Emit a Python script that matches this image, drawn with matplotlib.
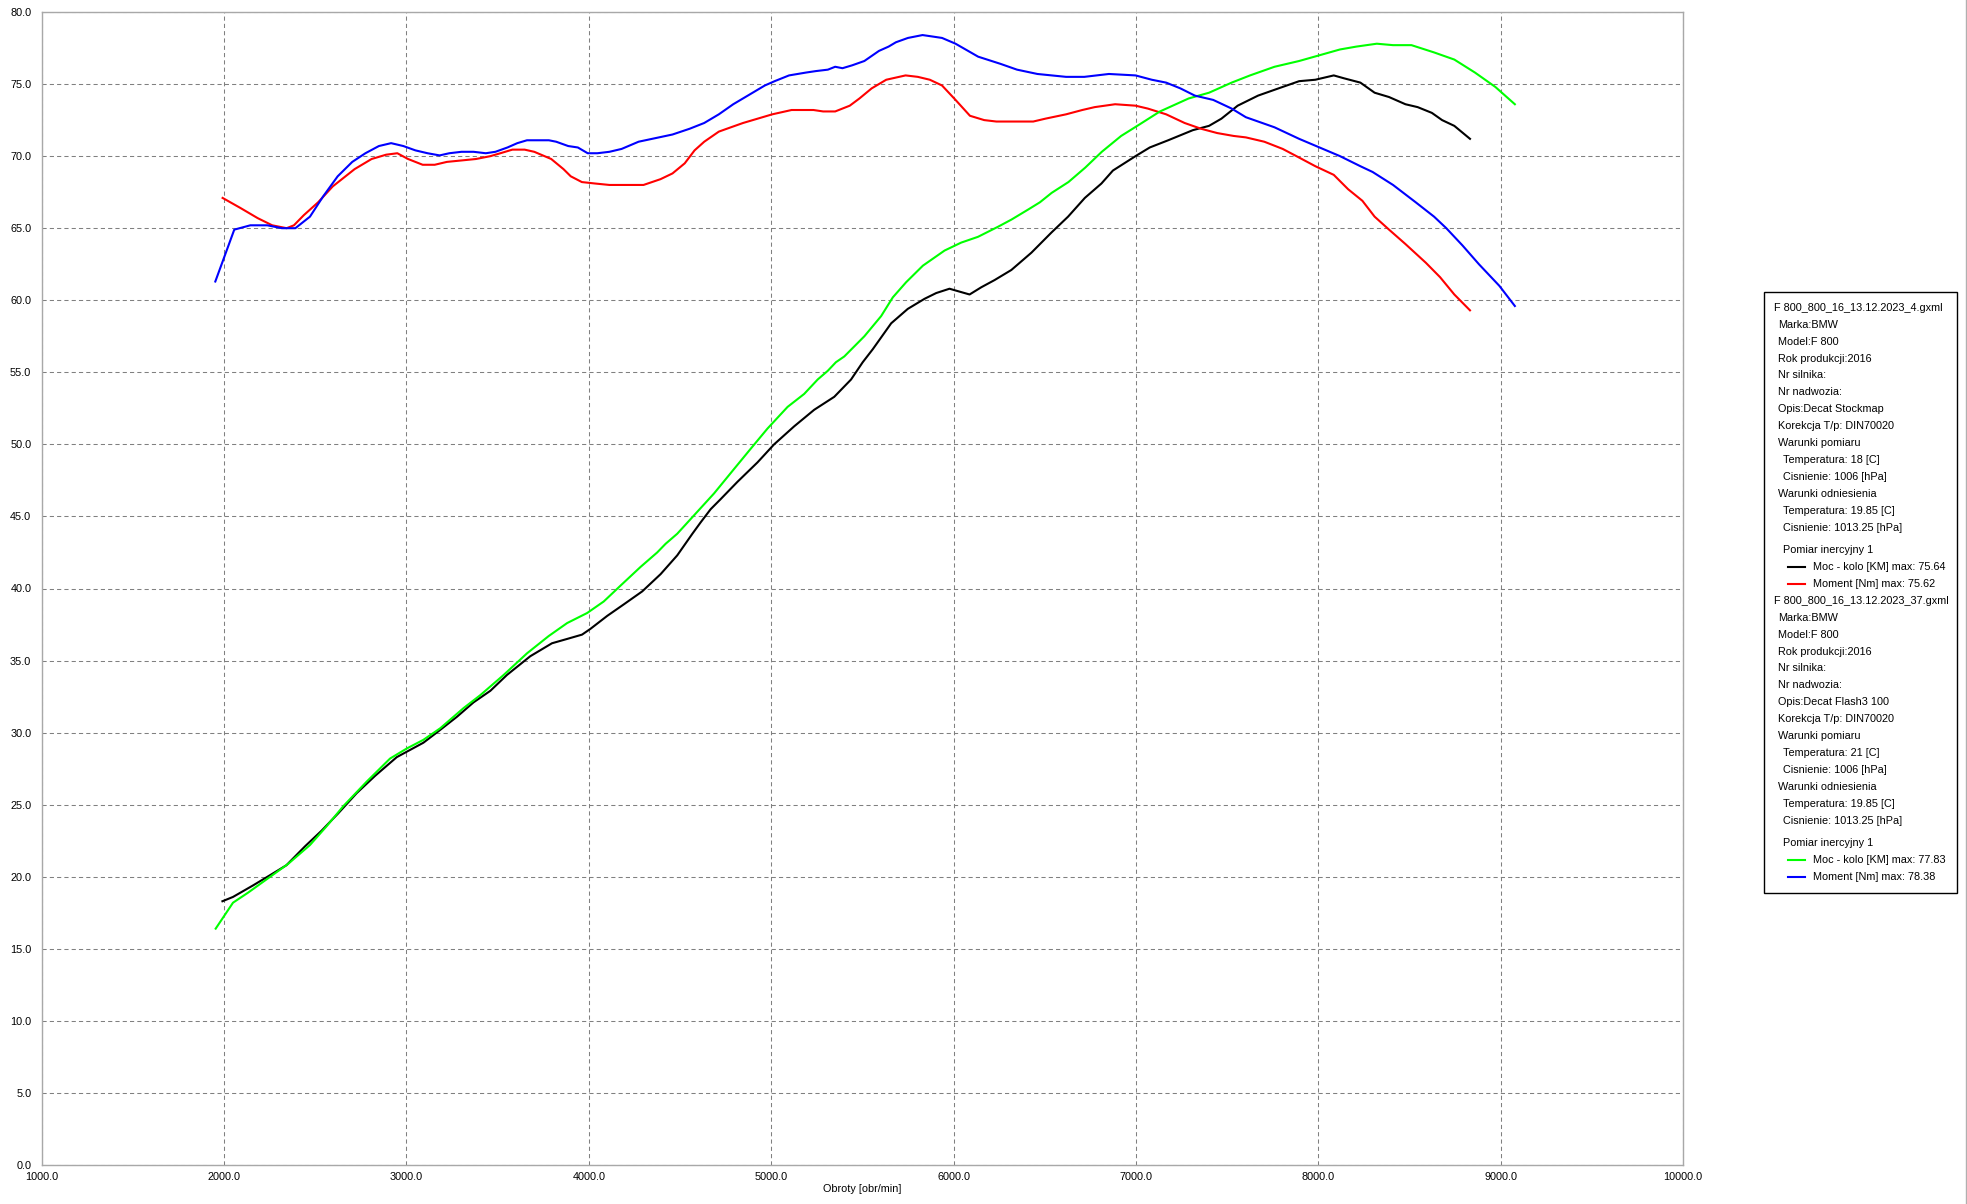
import matplotlib
matplotlib.use("Agg")
import matplotlib.pyplot as plt
from matplotlib.lines import Line2D
from matplotlib.patches import Rectangle

# ---------------- data ----------------
rpm_moc1 = [1991, 2049, 2159, 2251, 2342, 2443, 2535, 2626, 2727, 2828, 2947, 3093, 3176, 3277,
            3368, 3460, 3551, 3679, 3798, 3881, 3963, 4009, 4101, 4192, 4293, 4394, 4485, 4568,
            4614, 4668, 4723, 4815, 4925, 5016, 5126, 5236, 5346, 5438, 5502, 5557, 5658, 5749,
            5841, 5905, 5978, 6005, 6088, 6152, 6225, 6317, 6427, 6537, 6628, 6720, 6811, 6874,
            6998, 7076, 7177, 7312, 7401, 7469, 7558, 7670, 7782, 7895, 7984, 8085, 8141, 8231,
            8309, 8388, 8478, 8545, 8623, 8679, 8746, 8832]
moc1 = [18.3, 18.6, 19.4, 20.1, 20.8, 22.1, 23.2, 24.4, 25.8, 27.0, 28.3, 29.3, 30.1, 31.1,
        32.1, 32.9, 34.0, 35.3, 36.2, 36.5, 36.8, 37.2, 38.1, 38.9, 39.8, 41.0, 42.3, 43.8,
        44.6, 45.5, 46.2, 47.4, 48.75, 50.0, 51.25, 52.4, 53.3, 54.5, 55.7, 56.6, 58.4, 59.4,
        60.1, 60.5, 60.8, 60.7, 60.4, 60.9, 61.4, 62.1, 63.3, 64.7, 65.8, 67.1, 68.1, 69.0,
        70.0, 70.6, 71.1, 71.8, 72.1, 72.6, 73.5, 74.2, 74.7, 75.2, 75.3, 75.6, 75.4, 75.1,
        74.4, 74.1, 73.6, 73.4, 73.0, 72.5, 72.1, 71.2]

rpm_mom1 = [1992, 2090, 2184, 2264, 2343, 2383, 2437, 2516, 2596, 2716, 2809, 2889, 2950, 3009,
            3089, 3155, 3222, 3302, 3381, 3461, 3515, 3581, 3648, 3701, 3794, 3861, 3901, 3962,
            4034, 4113, 4193, 4260, 4300, 4393, 4459, 4526, 4580, 4633, 4713, 4779, 4846, 4926,
            5006, 5112, 5232, 5285, 5351, 5431, 5484, 5551, 5631, 5737, 5804, 5870, 5937, 6011,
            6090, 6168, 6235, 6437, 6504, 6617, 6706, 6774, 6886, 6998, 7065, 7166, 7267, 7357,
            7446, 7536, 7603, 7704, 7805, 7895, 7984, 8085, 8164, 8242, 8309, 8388, 8478, 8590,
            8668, 8746, 8832]
mom1 = [67.1, 66.4, 65.7, 65.2, 65.0, 65.2, 65.9, 66.8, 67.9, 69.1, 69.8, 70.1, 70.2, 69.8,
        69.4, 69.4, 69.6, 69.7, 69.8, 70.0, 70.2, 70.45, 70.45, 70.3, 69.8, 69.1, 68.6, 68.2,
        68.1, 68.0, 68.0, 68.0, 68.0, 68.4, 68.8, 69.5, 70.4, 71.0, 71.7, 72.0, 72.3, 72.6,
        72.9, 73.2, 73.2, 73.1, 73.1, 73.5, 74.0, 74.7, 75.3, 75.6, 75.5, 75.3, 74.9, 73.9,
        72.8, 72.5, 72.4, 72.4, 72.6, 72.9, 73.2, 73.4, 73.6, 73.5, 73.3, 72.9, 72.3, 71.9,
        71.6, 71.4, 71.3, 71.0, 70.5, 69.9, 69.3, 68.7, 67.7, 66.9, 65.8, 64.9, 63.9, 62.6,
        61.6, 60.4, 59.3]

rpm_moc2 = [1954, 2049, 2132, 2242, 2352, 2471, 2562, 2654, 2782, 2910, 3002, 3093, 3185, 3313,
            3405, 3533, 3661, 3780, 3881, 3991, 4082, 4174, 4284, 4375, 4421, 4485, 4586, 4687,
            4797, 4888, 4980, 5090, 5181, 5255, 5310, 5355, 5401, 5511, 5603, 5667, 5740, 5832,
            5951, 6042, 6134, 6244, 6318, 6410, 6474, 6538, 6630, 6722, 6813, 6919, 7020, 7132,
            7289, 7401, 7525, 7626, 7760, 7895, 8007, 8119, 8209, 8321, 8410, 8511, 8634, 8746,
            8859, 8971, 9078]
moc2 = [16.4, 18.2, 18.9, 19.9, 20.9, 22.2, 23.5, 24.9, 26.6, 28.2, 28.9, 29.5, 30.3, 31.7,
        32.6, 34.0, 35.5, 36.7, 37.6, 38.3, 39.1, 40.2, 41.5, 42.5, 43.1, 43.8, 45.2, 46.6,
        48.3, 49.7, 51.1, 52.6, 53.5, 54.5, 55.1, 55.7, 56.1, 57.5, 58.9, 60.2, 61.25, 62.4,
        63.45, 64.0, 64.4, 65.1, 65.6, 66.3, 66.8, 67.45, 68.2, 69.2, 70.3, 71.4, 72.2, 73.1,
        74.0, 74.4, 75.1, 75.6, 76.2, 76.6, 77.0, 77.4, 77.6, 77.8, 77.7, 77.7, 77.2, 76.7,
        75.8, 74.8, 73.6]

rpm_mom2 = [1952, 2056, 2144, 2237, 2317, 2391, 2471, 2543, 2623, 2703, 2775, 2849, 2916, 2983,
            3049, 3116, 3182, 3235, 3302, 3368, 3435, 3488, 3554, 3608, 3661, 3781, 3821, 3887,
            3940, 3994, 4047, 4113, 4180, 4273, 4366, 4459, 4553, 4633, 4713, 4792, 4872, 4965,
            5019, 5098, 5192, 5245, 5311, 5351, 5391, 5444, 5511, 5591, 5644, 5684, 5750, 5830,
            5884, 5937, 6011, 6135, 6258, 6348, 6460, 6617, 6717, 6852, 6998, 7087, 7166, 7244,
            7323, 7424, 7525, 7603, 7760, 7895, 8007, 8119, 8231, 8298, 8410, 8534, 8635, 8702,
            8791, 8881, 8993, 9078]
mom2 = [61.3, 64.9, 65.2, 65.2, 65.0, 65.0, 65.8, 67.2, 68.6, 69.6, 70.2, 70.7, 70.9, 70.7,
        70.4, 70.2, 70.05, 70.2, 70.3, 70.3, 70.2, 70.3, 70.6, 70.9, 71.1, 71.1, 71.0, 70.7,
        70.6, 70.2, 70.2, 70.3, 70.5, 71.0, 71.25, 71.5, 71.9, 72.3, 72.9, 73.6, 74.2, 74.9,
        75.2, 75.6, 75.8, 75.9, 76.0, 76.2, 76.1, 76.3, 76.6, 77.3, 77.6, 77.9, 78.2, 78.4,
        78.3, 78.2, 77.8, 76.9, 76.4, 76.0, 75.7, 75.5, 75.5, 75.7, 75.6, 75.3, 75.1, 74.7,
        74.2, 73.9, 73.3, 72.7, 72.0, 71.2, 70.6, 70.0, 69.3, 68.9, 68.0, 66.8, 65.8, 65.0,
        63.8, 62.5, 61.0, 59.6]

x_ticks = [1000, 2000, 3000, 4000, 5000, 6000, 7000, 8000, 9000, 10000]
y_ticks = [0, 5, 10, 15, 20, 25, 30, 35, 40, 45, 50, 55, 60, 65, 70, 75, 80]
x_label = "Obroty [obr/min]"

legend_blocks = [
    {"file": "F 800_800_16_13.12.2023_4.gxml",
     "info": ["Marka:BMW", "Model:F 800", "Rok produkcji:2016", "Nr silnika:", "Nr nadwozia:",
              "Opis:Decat Stockmap", "Korekcja T/p: DIN70020", "Warunki pomiaru"],
     "sub1": ["Temperatura: 18 [C]", "Cisnienie: 1006 [hPa]"],
     "ref": "Warunki odniesienia",
     "sub2": ["Temperatura: 19.85 [C]", "Cisnienie: 1013.25 [hPa]"],
     "series": [("Moc - kolo [KM] max: 75.64", "#000000"), ("Moment [Nm] max: 75.62", "#ff0000")]},
    {"file": "F 800_800_16_13.12.2023_37.gxml",
     "info": ["Marka:BMW", "Model:F 800", "Rok produkcji:2016", "Nr silnika:", "Nr nadwozia:",
              "Opis:Decat Flash3 100", "Korekcja T/p: DIN70020", "Warunki pomiaru"],
     "sub1": ["Temperatura: 21 [C]", "Cisnienie: 1006 [hPa]"],
     "ref": "Warunki odniesienia",
     "sub2": ["Temperatura: 19.85 [C]", "Cisnienie: 1013.25 [hPa]"],
     "series": [("Moc - kolo [KM] max: 77.83", "#00ff00"), ("Moment [Nm] max: 78.38", "#0000ff")]},
]

# ---------------- figure ----------------
W, H = 1967, 1204
DPI = 100
plt.rcParams['font.family'] = ['Liberation Sans', 'DejaVu Sans']
fig = plt.figure(figsize=(W / DPI, H / DPI), dpi=DPI, facecolor='white')

def fx(x):
    return x / W

def fy(y):
    return 1 - y / H

ax_l, ax_r, ax_t, ax_b = 41.7, 1683, 12, 1165
ax = fig.add_axes([fx(ax_l), fy(ax_b), (ax_r - ax_l) / W, (ax_b - ax_t) / H])
ax.set_xlim(1000, 10000)
ax.set_ylim(0, 80)
ax.set_xticks(x_ticks)
ax.set_yticks(y_ticks)
ax.set_xticklabels([f"{v:.1f}" for v in x_ticks])
ax.set_yticklabels([f"{v:.1f}" for v in y_ticks])
ax.tick_params(axis='both', length=0, labelsize=7.8, colors='#000000')
ax.tick_params(axis='y', pad=7.5)
ax.tick_params(axis='x', pad=5)
for s in ax.spines.values():
    s.set_color('#a8a8a8')
    s.set_linewidth(1.0)
ax.grid(True, color='#808080', linewidth=0.75, linestyle=(0, (4, 3)))
ax.set_axisbelow(True)

lw = 1.5
ax.plot(rpm_moc1, moc1, color='#000000', lw=lw)
ax.plot(rpm_mom1, mom1, color='#ff0000', lw=lw)
ax.plot(rpm_moc2, moc2, color='#00ff00', lw=lw)
ax.plot(rpm_mom2, mom2, color='#0000ff', lw=lw)

fig.text(fx(862), fy(1189), x_label, fontsize=7.8, ha='center', va='center')

# ---------------- legend box ----------------
fig.patches.append(Rectangle((fx(1764.3), fy(893)), (1957.3 - 1764.3) / W, (893 - 291.7) / H,
                             transform=fig.transFigure, fill=False, edgecolor='#000000', lw=1.0))
fig.lines.append(Line2D([fx(1965.5), fx(1965.5)], [0, 1], transform=fig.transFigure,
                        color='#b0b0b0', lw=1.0))

fs = 7.8
step = 16.95
y = 307.7
for block in legend_blocks:
    fig.text(fx(1774), fy(y), block["file"], fontsize=fs, ha='left', va='center')
    y += step
    for line in block["info"]:
        fig.text(fx(1778.3), fy(y), line, fontsize=fs, ha='left', va='center')
        y += step
    for line in block["sub1"]:
        fig.text(fx(1783.3), fy(y), line, fontsize=fs, ha='left', va='center')
        y += step
    fig.text(fx(1778.3), fy(y), block["ref"], fontsize=fs, ha='left', va='center')
    y += step
    for line in block["sub2"]:
        fig.text(fx(1783.3), fy(y), line, fontsize=fs, ha='left', va='center')
        y += step
    y += 4.8
    fig.text(fx(1783.3), fy(y), "Pomiar inercyjny 1", fontsize=fs, ha='left', va='center')
    y += step
    for label, col in block["series"]:
        fig.lines.append(Line2D([fx(1788.3), fx(1805)], [fy(y), fy(y)], transform=fig.transFigure,
                                color=col, lw=1.5))
        fig.text(fx(1813.3), fy(y), label, fontsize=fs, ha='left', va='center')
        y += step

fig.savefig("out.png", dpi=DPI, facecolor='white')
